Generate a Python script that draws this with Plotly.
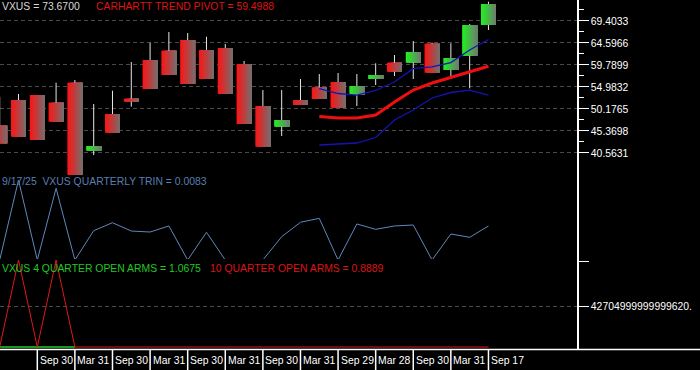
import plotly.graph_objects as go

# ---------------- data ----------------
idx = list(range(27))
opens = [46.51, 52.12, 53.21, 51.53, 55.90, 41.04, 49.06, 52.40, 60.86, 62.89,
         65.23, 63.05, 63.48, 59.99, 50.81, 46.29, 52.12, 54.89, 56.05, 53.21,
         56.71, 60.27, 60.27, 64.42, 58.68, 61.80, 68.51]
highs = [52.84, 53.43, 53.21, 55.90, 56.49, 51.25, 54.15, 60.42, 64.64, 66.98,
         66.76, 65.95, 64.36, 60.64, 54.30, 54.30, 56.71, 57.80, 58.02, 57.80,
         60.14, 61.95, 65.01, 64.64, 64.51, 68.73, 73.60]
lows = [42.66, 44.10, 43.38, 47.38, 35.73, 40.10, 44.98, 50.66, 54.52, 57.58,
        55.62, 56.71, 53.43, 46.88, 41.92, 44.25, 51.03, 52.34, 50.44, 50.81,
        55.40, 57.36, 56.71, 58.09, 57.36, 54.68, 67.41]
closes = [42.66, 44.10, 43.38, 47.38, 35.73, 42.07, 44.98, 51.75, 54.52, 57.58,
          55.62, 56.71, 53.43, 46.88, 41.92, 47.75, 51.03, 52.34, 50.44, 55.18,
          57.58, 58.30, 62.61, 58.09, 61.30, 68.51, 73.10]

line_idx = [17, 18, 19, 20, 21, 22, 23, 24, 25, 26]
pivot = [48.52, 48.19, 48.19, 48.84, 51.68, 54.30, 55.84, 57.04, 58.24, 59.50]
band_upper = [54.63, 53.54, 53.21, 54.20, 56.05, 58.98, 59.37, 60.31, 63.05, 65.34]
band_lower = [42.29, 42.51, 42.73, 43.93, 47.75, 49.94, 52.56, 53.76, 54.30, 53.21]

trin = [0.0, 0.952, 0.0, 0.854, 0.0, 0.349, 0.444, 0.345, 0.333, 0.405,
        0.0, 0.330, 0.0, 0.0, 0.0, 0.277, 0.449, 0.496, 0.0, 0.429,
        0.365, 0.405, 0.417, 0.0, 0.310, 0.270, 0.405]

arms4_idx = [0, 1, 2, 3, 4]
arms4 = [0, 0, 0, 0, 0]
arms10 = [0, 9.22e16, 0, 9.22e16, 0, 0, 0, 0, 0, 0,
          0, 0, 0, 0, 0, 0, 0, 0, 0, 0,
          0, 0, 0, 0, 0, 0, 0]

xlab_idx = [2, 4, 6, 8, 10, 12, 14, 16, 18, 20, 22, 24, 26]
xlab_text = ["Sep 30", "Mar 31", "Sep 30", "Mar 31", "Sep 30", "Mar 31", "Sep 30",
             "Mar 31", "Sep 29", "Mar 28", "Sep 30", "Mar 31", "Sep 17"]

price_ticks = [40.5631, 45.3698, 50.1765, 54.9832, 59.7899, 64.5966, 69.4033]
price_minor = [42.96645, 47.77315, 52.57985, 57.38655, 62.19325, 66.99995, 71.80665]
arms_tick = [4.2705e16]
arms_ticktext = ["42704999999999620."]

# ---------------- layout helpers ----------------
W, H = 700, 370
MR, MB = 123, 21
PW, PH = W - MR, H - MB


def xp(px):
    return px / PW


def yp(py):
    return 1 - py / PH


FONT = "Arial, Liberation Sans, sans-serif"
FS = 10.4
GRID = "#4a4a4a"
fig = go.Figure()

# ---------------- candle bodies (gradient strips) ----------------
NSTRIP = 12
red_a, red_b = (250, 22, 22), (122, 106, 106)
grn_a, grn_b = (34, 238, 34), (108, 128, 108)


def mix(a, b, t):
    return "rgb(%d,%d,%d)" % tuple(round(a[i] + (b[i] - a[i]) * t) for i in range(3))


red_i = [i for i in idx if closes[i] < opens[i]]
grn_i = [i for i in idx if closes[i] >= opens[i]]
BW = 0.8
for k in range(NSTRIP):
    t = k / (NSTRIP - 1)
    off = -BW / 2 + k * BW / NSTRIP
    wid = BW - k * BW / NSTRIP
    for sel, ca, cb in ((red_i, red_a, red_b), (grn_i, grn_a, grn_b)):
        fig.add_trace(go.Bar(
            x=sel,
            base=[min(opens[i], closes[i]) for i in sel],
            y=[abs(closes[i] - opens[i]) for i in sel],
            offset=off, width=wid,
            marker=dict(color=mix(ca, cb, t), line=dict(width=0)),
            xaxis="x", yaxis="y", hoverinfo="skip", showlegend=False))

# ---------------- wicks ----------------
wx, wy = [], []
for i in idx:
    top = max(opens[i], closes[i])
    bot = min(opens[i], closes[i])
    if highs[i] > top:
        wx += [i, i, None]
        wy += [top, highs[i], None]
    if lows[i] < bot:
        wx += [i, i, None]
        wy += [lows[i], bot, None]
fig.add_trace(go.Scatter(x=wx, y=wy, mode="lines",
                         line=dict(color="#e6e6e6", width=1),
                         xaxis="x", yaxis="y", hoverinfo="skip", showlegend=False))

# ---------------- overlay lines ----------------
fig.add_trace(go.Scatter(x=line_idx, y=band_upper, mode="lines",
                         line=dict(color="#1414b4", width=1.3),
                         xaxis="x", yaxis="y", showlegend=False))
fig.add_trace(go.Scatter(x=line_idx, y=band_lower, mode="lines",
                         line=dict(color="#1414b4", width=1.3),
                         xaxis="x", yaxis="y", showlegend=False))
fig.add_trace(go.Scatter(x=line_idx, y=pivot, mode="lines",
                         line=dict(color="#ee1010", width=3),
                         xaxis="x", yaxis="y", showlegend=False))

# ---------------- TRIN panel ----------------
fig.add_trace(go.Scatter(x=idx, y=trin, mode="lines",
                         line=dict(color="#5f88bd", width=1),
                         xaxis="x", yaxis="y2", showlegend=False))

# ---------------- ARMS panel ----------------
fig.add_trace(go.Scatter(x=arms4_idx, y=arms4, mode="lines",
                         line=dict(color="#22cc22", width=1.6),
                         xaxis="x", yaxis="y3", showlegend=False))
fig.add_trace(go.Scatter(x=idx, y=arms10, mode="lines",
                         line=dict(color="#e01818", width=1),
                         xaxis="x", yaxis="y3", showlegend=False))

# ---------------- annotations ----------------
ann = []


def label(px, py, text, color):
    ann.append(dict(xref="paper", yref="paper", x=xp(px), y=yp(py), text=text,
                    showarrow=False, xanchor="left", yanchor="middle",
                    font=dict(family=FONT, size=FS, color=color), borderpad=0))


label(1, 7, "VXUS = 73.6700", "#d8d8d8")
label(95, 7, "CARHARTT TREND PIVOT = 59.4988", "#dd1414")
label(0.5, 181, "9/17/25  VXUS QUARTERLY TRIN = 0.0083", "#5a7fb2")
label(1, 268, "VXUS 4 QUARTER OPEN ARMS = 1.0675", "#22c822")
label(209, 268, "10 QUARTER OPEN ARMS = 0.8889", "#dd1414")

shapes = []
for i, t in zip(xlab_idx, xlab_text):
    ann.append(dict(xref="x", yref="paper", x=i, y=yp(360.5), text=t,
                    showarrow=False, xanchor="left", yanchor="middle", xshift=1.5,
                    font=dict(family=FONT, size=FS, color="white"), borderpad=0))
    shapes.append(dict(type="line", xref="x", yref="paper", x0=i, x1=i,
                       y0=yp(349.5), y1=yp(371), line=dict(color="white", width=1.5)))

# full width bottom line
shapes.append(dict(type="line", xref="paper", yref="paper", x0=0, x1=W / PW,
                   y0=yp(349.5), y1=yp(349.5), line=dict(color="white", width=1.5)))

yax_common = dict(side="right", showline=True, linecolor="white", linewidth=1.5,
                  ticks="outside", tickcolor="white", ticklen=10, tickwidth=1,
                  tickfont=dict(family=FONT, size=FS, color="white"),
                  showgrid=True, gridcolor=GRID, griddash="4px,3px", gridwidth=1,
                  zeroline=False, fixedrange=True, anchor="x")

fig.update_layout(
    width=W, height=H,
    margin=dict(l=0, r=MR, t=0, b=MB, pad=0),
    paper_bgcolor="black", plot_bgcolor="black",
    barmode="overlay", showlegend=False,
    xaxis=dict(range=[0.016, 30.71], showgrid=False, zeroline=False,
               showticklabels=False, ticks="", showline=False, anchor="y3",
               fixedrange=True),
    yaxis=dict(domain=[yp(176), 1], range=[35.52, 73.97],
               tickvals=price_ticks, tickformat=".4f",
               minor=dict(tickvals=price_minor, ticklen=5, tickcolor="white",
                          ticks="outside", showgrid=False),
               **yax_common),
    yaxis2=dict(domain=[yp(263), yp(176)], range=[-0.0357, 1.0],
                tickvals=[-0.02], ticktext=[""], **yax_common),
    yaxis3=dict(domain=[0, yp(259)], range=[-2.12e15, 9.326e16],
                tickvals=arms_tick, ticktext=arms_ticktext, **yax_common),
    annotations=ann, shapes=shapes,
)

fig.write_html("out.html")
